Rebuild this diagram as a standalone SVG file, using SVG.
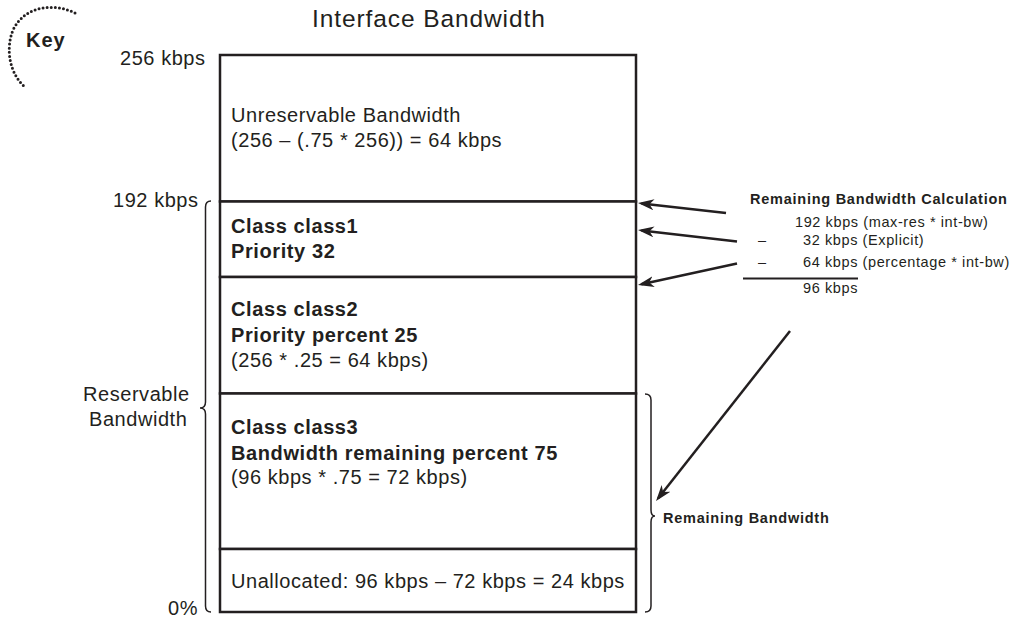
<svg xmlns="http://www.w3.org/2000/svg" width="1013" height="620" viewBox="0 0 1013 620">
<style>
text{font-family:"Liberation Sans",Arial,sans-serif;fill:#231f20}
.t{font-size:24.5px;letter-spacing:0.9px}
.m{font-size:20px;letter-spacing:0.55px}
.mb{font-size:20px;letter-spacing:0.6px;font-weight:bold}
.s{font-size:14.5px;letter-spacing:0.6px}
.sb{font-size:14.5px;letter-spacing:0.75px;font-weight:bold}
.box{fill:#fff;stroke:#231f20;stroke-width:2.5}
.brace{fill:none;stroke:#231f20;stroke-width:1.5}
.arr{stroke:#231f20;stroke-width:2.5;fill:none;marker-end:url(#ah)}
</style>
<defs>
<marker id="ah" markerUnits="userSpaceOnUse" viewBox="0 0 16 11" refX="12.5" refY="5.5" markerWidth="16" markerHeight="11" orient="auto">
<path d="M16,5.5 L0,0 L4.5,5.5 L0,11 Z" fill="#231f20"/>
</marker>
</defs>
<rect width="1013" height="620" fill="#fff"/>
<g id="key">
<path d="M75 13 C55 3 25 5 13 30 C5 50 10 75 26 88" fill="none" stroke="#231f20" stroke-width="3" stroke-linecap="round" stroke-dasharray="0 4.1"/>
<text class="mb" x="26" y="47" style="letter-spacing:1px">Key</text>
</g>
<text id="title" class="t" x="312" y="27">Interface Bandwidth</text>
<g id="axis-labels">
<text class="m" x="120" y="65">256 kbps</text>
<text class="m" x="113" y="207">192 kbps</text>
<text class="m" x="168" y="615">0%</text>
</g>
<g id="reservable">
<path class="brace" d="M211 201 Q205.5 201 205.5 207 L205.5 402 Q205.5 408 200 408 Q205.5 408 205.5 414 L205.5 606 Q205.5 612 211 612"/>
<text class="m" x="83" y="401">Reservable</text>
<text class="m" x="89" y="426">Bandwidth</text>
</g>
<g id="unreservable">
<rect class="box" x="220" y="55" width="416" height="146.5"/>
<text class="m" x="231" y="122">Unreservable Bandwidth</text>
<text class="m" x="231" y="147">(256 – (.75 * 256)) = 64 kbps</text>
</g>
<g id="class1">
<rect class="box" x="220" y="201.5" width="416" height="75.5"/>
<text class="mb" x="231" y="233">Class class1</text>
<text class="mb" x="231" y="258">Priority 32</text>
</g>
<g id="class2">
<rect class="box" x="220" y="277" width="416" height="116.5"/>
<text class="mb" x="231" y="316">Class class2</text>
<text class="mb" x="231" y="342">Priority percent 25</text>
<text class="m" x="231" y="367">(256 * .25 = 64 kbps)</text>
</g>
<g id="class3">
<rect class="box" x="220" y="393.5" width="416" height="155.5"/>
<text class="mb" x="231" y="434">Class class3</text>
<text class="mb" x="231" y="460">Bandwidth remaining percent 75</text>
<text class="m" x="231" y="484">(96 kbps * .75 = 72 kbps)</text>
</g>
<g id="unallocated">
<rect class="box" x="220" y="549" width="416" height="63"/>
<text class="m" x="231" y="588">Unallocated: 96 kbps – 72 kbps = 24 kbps</text>
</g>
<g id="remaining">
<path class="brace" d="M645 394 Q651 394 651 400 L651 510 Q651 516 655 516 Q651 516 651 522 L651 606 Q651 612 645 612"/>
<text class="sb" x="663" y="523">Remaining Bandwidth</text>
</g>
<g id="calculation">
<text class="sb" x="750" y="204">Remaining Bandwidth Calculation</text>
<text class="s" x="795" y="227">192 kbps (max-res * int-bw)</text>
<text class="s" x="758" y="245">–</text>
<text class="s" x="803" y="245">32 kbps (Explicit)</text>
<text class="s" x="758" y="267">–</text>
<text class="s" x="803" y="267">64 kbps (percentage * int-bw)</text>
<line x1="743" y1="278.5" x2="858" y2="278.5" stroke="#231f20" stroke-width="2"/>
<text class="s" x="803" y="293">96 kbps</text>
</g>
<g id="connectors">
<line class="arr" x1="726" y1="213" x2="641.5" y2="203.4"/>
<line class="arr" x1="737" y1="241.5" x2="641.5" y2="230.4"/>
<line class="arr" x1="737" y1="263.5" x2="641.4" y2="284.3"/>
<line class="arr" x1="790" y1="331" x2="658.2" y2="498.2"/>
</g>
</svg>
